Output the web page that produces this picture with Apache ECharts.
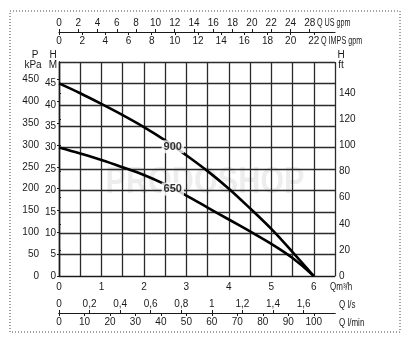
<!DOCTYPE html>
<html><head><meta charset="utf-8">
<script src="https://cdn.jsdelivr.net/npm/echarts@6/dist/echarts.min.js"></script>
<style>html,body{margin:0;padding:0;background:#fff}#c{width:408px;height:350px}</style>
</head><body><div id="c"></div>
<script>
// ---- data ----
const flowM3h = [0, 0.5, 1, 1.5, 2, 2.5, 3, 3.5, 4, 4.5, 5, 5.5, 6];
const head900 = [45, 42.7, 40.2, 37.6, 34.8, 31.7, 28.2, 24.5, 20.4, 15.8, 11.0, 5.6, 0];
const head650 = [30, 28.6, 27.1, 25.4, 23.6, 21.4, 18.8, 16.0, 13.2, 10.4, 7.5, 4.2, 0];
const curveNames = ['900', '650'];
const curveLabelQ = [2.68, 2.68];
const curveLabelH = [30.2, 20.3];

const m3hTicks = [0, 1, 2, 3, 4, 5, 6];
const headMTicks = [0, 5, 10, 15, 20, 25, 30, 35, 40, 45];
const kPaTicks = [0, 50, 100, 150, 200, 250, 300, 350, 400, 450];
const ftTicks = [0, 20, 40, 60, 80, 100, 120, 140];
const usGpmTicks = [0, 2, 4, 6, 8, 10, 12, 14, 16, 18, 20, 22, 24, 26];
const usGpmLabels = ['0', '2', '4', '6', '8', '10', '12', '14', '16', '18', '20', '22', '24', '28'];
const impGpmTicks = [0, 2, 4, 6, 8, 10, 12, 14, 16, 18, 20, 22];
const lsTicks = [0, 0.2, 0.4, 0.6, 0.8, 1, 1.2, 1.4, 1.6];
const lminTicks = [0, 10, 20, 30, 40, 50, 60, 70, 80, 90, 100];

// unit conversions
const Q_MAX = 6.5, H_MAX = 50;
const KPA_PER_M = 9.81, FT_PER_M = 1 / 0.3048;
const USGPM_PER_M3H = 4.403, IMPGPM_PER_M3H = 3.666;
const LS_PER_M3H = 1 / 3.6, LMIN_PER_M3H = 1000 / 60;

const FONT = "'Liberation Sans Narrow','Liberation Sans',sans-serif";
const TXT = '#1a1a1a';
const FS = 10;
const lab = (extra) => Object.assign({ color: TXT, fontFamily: FONT, fontSize: FS }, extra);

function extraX(pos, offset, max, ticks, inside, formatter, showLine) {
  return {
    type: 'value', position: pos, offset: offset, min: 0, max: max,
    axisLine: { show: showLine, onZero: false, lineStyle: { color: '#1a1a1a', width: 1.2 } },
    axisTick: { show: true, inside: inside, length: 3, customValues: ticks, lineStyle: { color: '#1a1a1a' } },
    axisLabel: lab({ inside: inside, margin: 4, customValues: ticks, formatter: formatter }),
    splitLine: { show: false }
  };
}
function txt(x, y, s, scaleX, align) {
  return { type: 'text', x: x, y: y, scaleX: scaleX || 1, silent: true,
    style: { text: s, fill: TXT, font: FS + 'px ' + FONT, align: align || 'left', verticalAlign: 'middle' } };
}

const chart = echarts.init(document.getElementById('c'), null, { renderer: 'canvas' });
chart.setOption({
  animation: false,
  backgroundColor: '#fff',
  grid: { left: 59, top: 62, width: 276, height: 214, containLabel: false },
  xAxis: [
    {
      type: 'value', position: 'bottom', min: 0, max: Q_MAX, interval: 0.5,
      axisLine: { show: true, onZero: false, lineStyle: { color: '#1a1a1a', width: 1.2 } },
      axisTick: { show: false },
      axisLabel: lab({ margin: 6, customValues: m3hTicks }),
      splitLine: { show: true, lineStyle: { color: '#2a2a2a', width: 1.3 } }
    },
    extraX('bottom', 37, Q_MAX * LS_PER_M3H, lsTicks, true, v => String(v).replace('.', ','), true),
    extraX('bottom', 37, Q_MAX * LMIN_PER_M3H, lminTicks, false, v => String(v), true),
    extraX('top', 30, Q_MAX * USGPM_PER_M3H, usGpmTicks, false, v => {
      const i = usGpmTicks.indexOf(v); return i >= 0 ? usGpmLabels[i] : '';
    }, true),
    extraX('top', 30, Q_MAX * IMPGPM_PER_M3H, impGpmTicks, true, v => String(v), false)
  ],
  yAxis: [
    {
      type: 'value', position: 'left', min: 0, max: H_MAX, interval: 5,
      axisLine: { show: true, lineStyle: { color: '#1a1a1a', width: 1.2 } },
      axisTick: { show: false },
      axisLabel: lab({ margin: 3, customValues: headMTicks }),
      splitLine: { show: true, lineStyle: { color: '#2a2a2a', width: 1.3 } }
    },
    {
      type: 'value', position: 'left', offset: 18, min: 0, max: H_MAX * KPA_PER_M,
      axisLine: { show: true, lineStyle: { color: '#1a1a1a', width: 1.2 } },
      axisTick: { show: true, length: 2, customValues: kPaTicks, lineStyle: { color: '#1a1a1a' } },
      axisLabel: lab({ margin: 2, customValues: kPaTicks }),
      splitLine: { show: false }
    },
    {
      type: 'value', position: 'right', min: 0, max: H_MAX * FT_PER_M,
      axisLine: { show: true, lineStyle: { color: '#1a1a1a', width: 1.2 } },
      axisTick: { show: true, length: 2, customValues: ftTicks, lineStyle: { color: '#1a1a1a' } },
      axisLabel: lab({ margin: 4, customValues: ftTicks }),
      splitLine: { show: false }
    }
  ],
  graphic: [
    { type: 'rect', shape: { x: 10, y: 11, width: 390, height: 321 }, silent: true,
      style: { fill: 'none', stroke: '#444', lineWidth: 1, lineDash: [1, 2] } },
    { type: 'text', x: 205, y: 183, z: -1, silent: true, scaleX: 0.85,
      style: { text: 'PRODOSHOP', fill: 'rgba(0,0,0,0.07)', font: "bold 36px " + FONT, align: 'center', verticalAlign: 'middle' } },
    txt(35, 55, 'P', 1, 'center'),
    txt(33, 65, 'kPa', 1, 'center'),
    txt(53, 55, 'H', 1, 'center'),
    txt(53, 65, 'M', 1, 'center'),
    txt(341, 55, 'H', 1, 'center'),
    txt(341, 65, 'ft', 1, 'center'),
    txt(317, 23, 'Q US gpm', 0.72),
    txt(321, 41, 'Q IMPS gpm', 0.72),
    txt(330, 287, 'Qm³/h', 0.8),
    txt(339, 305, 'Q l/s', 0.8),
    txt(339, 323, 'Q l/min', 0.8)
  ],
  series: [
    { name: curveNames[0], type: 'line', xAxisIndex: 0, yAxisIndex: 0, smooth: 0.35, symbol: 'none',
      lineStyle: { color: '#000', width: 2.6 }, data: flowM3h.map((q, i) => [q, head900[i]]), z: 3 },
    { name: curveNames[1], type: 'line', xAxisIndex: 0, yAxisIndex: 0, smooth: 0.35, symbol: 'none',
      lineStyle: { color: '#000', width: 2.6 }, data: flowM3h.map((q, i) => [q, head650[i]]), z: 3 },
    { type: 'scatter', xAxisIndex: 0, yAxisIndex: 0, symbolSize: 0, z: 5,
      data: curveNames.map((n, i) => ({ value: [curveLabelQ[i], curveLabelH[i]], name: n })),
      label: { show: true, position: 'inside', formatter: p => p.name, color: '#000',
        fontFamily: FONT, fontSize: 11, fontWeight: 'bold', backgroundColor: '#fff', padding: [1, 2] } }
  ]
});
</script>
</body></html>
